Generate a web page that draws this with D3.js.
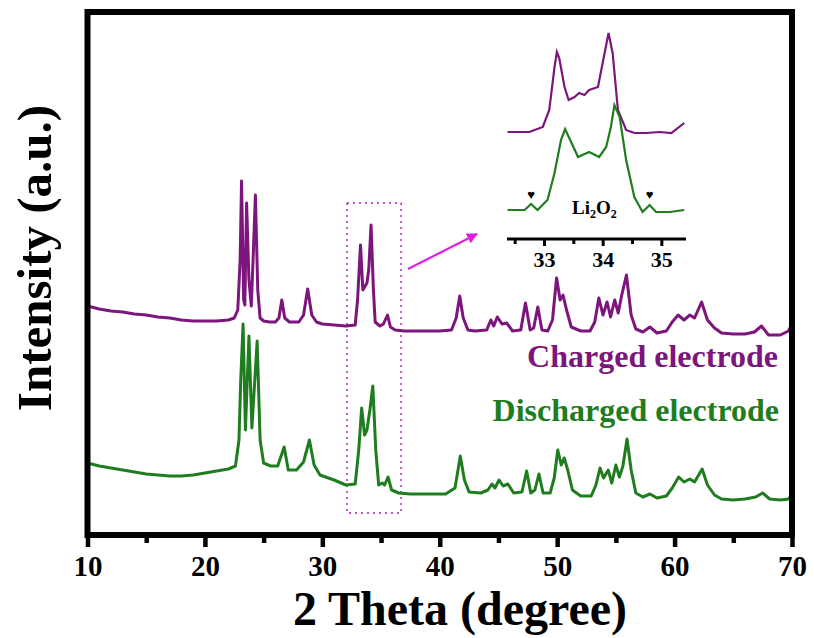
<!DOCTYPE html>
<html><head><meta charset="utf-8">
<script src="https://cdn.jsdelivr.net/npm/d3@7"></script>
<style>body{margin:0;background:#fff}svg{display:block}text{font-family:"Liberation Serif","Times New Roman",serif;font-weight:bold}</style>
</head><body>
<svg id="c" width="814" height="638"></svg>
<script>
// ---------- data ----------
const chargedTheta = [10,11,12,13,14,15,16,17,18,19,20,21,22,22.5,22.8,23.0,23.12,23.3,23.4,23.55,23.75,23.95,24.1,24.3,24.5,24.7,25,25.5,26,26.3,26.55,26.8,27.2,28,28.4,28.75,29.1,29.5,30,31,32,32.8,33.0,33.25,33.45,33.6,33.8,33.95,34.15,34.35,34.5,34.9,35.2,35.55,35.8,36.2,37,38,39,40,41,41.4,41.7,42,42.4,43,44,44.35,44.6,44.9,45.3,45.7,46.2,46.9,47.3,47.7,48,48.35,48.7,49.2,49.6,49.95,50.25,50.5,50.8,51.2,52,52.8,53.2,53.55,53.9,54.25,54.55,54.9,55.2,55.5,55.9,56.3,56.7,57.3,57.9,58.5,59.3,59.8,60.3,60.8,61.3,61.7,62.3,62.8,63.4,64,65,66,66.8,67.4,68,69,69.7,70];
const chargedI     = [227,224,222,221,219,218,216,215,213,212,212,212,213,215,223,273,352,233,228,330,253,227,273,338,243,215,212,211,211,215,233,215,211,211,218,244,218,211,209,208,207,208,233,288,243,246,250,263,308,243,211,207,209,218,206,203,202,202,202,202,203,215,237,215,203,202,203,213,207,216,209,210,202,203,230,203,205,226,203,202,213,255,233,238,223,206,202,202,211,235,218,231,216,233,220,238,258,218,204,201,206,200,202,211,218,213,218,215,231,213,205,200,199,199,201,207,198,198,202,209];
const dischargedTheta = [10,11,12,13,14,15,16,17,18,19,20,21,22,22.6,22.9,23.05,23.25,23.45,23.75,24.0,24.45,24.7,25,25.6,26.2,26.75,27.1,27.8,28.4,28.9,29.3,29.8,31,32,32.8,33.1,33.35,33.6,33.8,34.05,34.3,34.55,34.8,35.1,35.3,35.6,35.9,36.5,37.5,38.5,39.5,40.5,41.3,41.75,42.1,42.5,43.5,44.1,44.45,44.7,45.05,45.4,45.8,46.3,47,47.4,47.75,48.1,48.45,48.8,49.4,49.75,50.05,50.35,50.6,50.9,51.3,52,52.9,53.3,53.65,53.95,54.35,54.65,55,55.3,55.6,55.95,56.3,56.7,57.3,57.9,58.5,59.3,59.8,60.35,60.8,61.3,61.7,62.35,62.8,63.4,64,65,66,66.9,67.5,68.1,69,69.7,70];
const dischargedI     = [70,67,65,63,61,59,58,57,57,58,60,62,64,67,93,153,209,103,197,105,192,93,70,67,67,86,63,63,71,93,68,58,53,48,49,83,125,98,103,123,147,83,48,50,48,56,43,40,39,39,39,39,45,77,53,41,40,43,49,45,53,47,49,40,41,62,40,43,59,40,40,55,83,68,75,63,43,37,37,48,65,55,63,50,68,56,67,94,63,40,36,39,35,37,45,56,51,54,51,64,48,38,34,33,34,36,40,34,33,34,39];
const xTicks = [10,20,30,40,50,60,70];
const xMinorTicks = [15,25,35,45,55,65];
const seriesNames = ["Charged electrode","Discharged electrode"];
// inset (zoom on the Li2O2 region)
const insetChargedTheta = [32.38,32.75,32.98,33.09,33.18,33.22,33.26,33.35,33.42,33.52,33.6,33.69,33.77,33.92,34.01,34.1,34.17,34.26,34.4,34.54,34.74,34.97,35.17,35.39];
const insetChargedI     = [108,108,113,130,173,188,182,153,140,143,147,145,150,153,180,207,187,130,110,107,107,108,107,117];
const insetDischargedTheta = [32.38,32.67,32.78,32.89,33.06,33.18,33.29,33.36,33.47,33.58,33.77,33.94,34.06,34.14,34.2,34.29,34.4,34.54,34.68,34.8,34.91,35.14,35.39];
const insetDischargedI     = [30,30,36,30,40,67,100,111,97,83,88,83,93,113,135,123,80,43,28,35,28,28,30];
const insetTicks = [33,34,35];
const insetMinorTicks = [32.5,33.5,34.5];
const li2o2Marks = [32.78,34.8];
const zoomBoxTheta = [32.1,36.7];
const zoomBoxI = [20,330];

// ---------- drawing ----------
const purple = "#7c157c", green = "#1f7d1f";
const svg = d3.select("#c");
const L = 87.5, R = 792, T = 12, B = 535;
const x = d3.scaleLinear().domain([10,70]).range([L,R]);
const y = d3.scaleLinear().domain([0,520]).range([533,13]);

// zoom box
svg.append("rect")
  .attr("x", x(zoomBoxTheta[0])).attr("y", y(zoomBoxI[1]))
  .attr("width", x(zoomBoxTheta[1]) - x(zoomBoxTheta[0]))
  .attr("height", y(zoomBoxI[0]) - y(zoomBoxI[1]))
  .attr("fill","none").attr("stroke","#c050c0").attr("stroke-width",1.8)
  .attr("stroke-dasharray","2,4");

const line = d3.line().x(d=>x(d[0])).y(d=>y(d[1]));
svg.append("path").datum(chargedTheta.map((t,i)=>[t,chargedI[i]]))
  .attr("d",line).attr("fill","none").attr("stroke",purple).attr("stroke-width",3).attr("stroke-linejoin","round");
svg.append("path").datum(dischargedTheta.map((t,i)=>[t,dischargedI[i]]))
  .attr("d",line).attr("fill","none").attr("stroke",green).attr("stroke-width",3).attr("stroke-linejoin","round");

// frame
svg.append("rect").attr("x",L).attr("y",T).attr("width",R-L).attr("height",B-T)
  .attr("fill","none").attr("stroke","#000").attr("stroke-width",6);

// x axis
const ax = svg.append("g").attr("transform",`translate(0,${B})`);
ax.call(d3.axisBottom(x).tickValues(xTicks).tickSize(12).tickFormat(d3.format("d")));
ax.select(".domain").remove();
ax.selectAll(".tick line").attr("stroke","#000").attr("stroke-width",4.5);
ax.selectAll(".tick text").attr("y",20).attr("dy","0.71em").attr("font-size",29)
  .attr("font-family","Liberation Serif").attr("font-weight","bold").attr("fill","#000");
const axm = svg.append("g").attr("transform",`translate(0,${B})`);
axm.call(d3.axisBottom(x).tickValues(xMinorTicks).tickSize(8).tickFormat(""));
axm.select(".domain").remove();
axm.selectAll(".tick line").attr("stroke","#000").attr("stroke-width",4.5);

// axis titles
svg.append("text").attr("x",460).attr("y",625).attr("text-anchor","middle")
  .attr("font-size",48).text("2 Theta (degree)");
svg.append("text").attr("transform","translate(51,258) rotate(-90)").attr("text-anchor","middle")
  .attr("font-size",49).text("Intensity (a.u.)");

// series labels
svg.append("text").attr("x",778).attr("y",367).attr("text-anchor","end").attr("font-size",32)
  .attr("fill",purple).text(seriesNames[0]);
svg.append("text").attr("x",779).attr("y",421).attr("text-anchor","end").attr("font-size",32)
  .attr("fill",green).text(seriesNames[1]);

// arrow
const defs = svg.append("defs");
defs.append("marker").attr("id","ah").attr("viewBox","0 0 10 10").attr("refX",9).attr("refY",5)
  .attr("markerWidth",5).attr("markerHeight",5).attr("orient","auto")
  .append("path").attr("d","M0,0 L10,5 L0,10 z").attr("fill","#e020e0");
svg.append("line").attr("x1",408).attr("y1",269).attr("x2",477).attr("y2",234)
  .attr("stroke","#e020e0").attr("stroke-width",2.2).attr("marker-end","url(#ah)");

// inset
const xi = d3.scaleLinear().domain([32.37,35.42]).range([507,686]);
const yi = d3.scaleLinear().domain([0,240]).range([240,0]);
const li = d3.line().x(d=>xi(d[0])).y(d=>yi(d[1]));
svg.append("path").datum(insetChargedTheta.map((t,i)=>[t,insetChargedI[i]]))
  .attr("d",li).attr("fill","none").attr("stroke",purple).attr("stroke-width",2.2);
svg.append("path").datum(insetDischargedTheta.map((t,i)=>[t,insetDischargedI[i]]))
  .attr("d",li).attr("fill","none").attr("stroke",green).attr("stroke-width",2.2);
const ai = svg.append("g").attr("transform","translate(0,239)");
ai.call(d3.axisBottom(xi).tickValues(insetTicks).tickSize(7).tickFormat(d3.format("d")));
ai.select(".domain").attr("d",`M${xi.range()[0]},0H${xi.range()[1]}`).attr("stroke","#000").attr("stroke-width",3);
ai.selectAll(".tick line").attr("stroke","#000").attr("stroke-width",3);
ai.selectAll(".tick text").attr("y",12).attr("dy","0.71em").attr("font-size",22)
  .attr("font-family","Liberation Serif").attr("font-weight","bold").attr("fill","#000");
const aim = svg.append("g").attr("transform","translate(0,239)");
aim.call(d3.axisBottom(xi).tickValues(insetMinorTicks).tickSize(5).tickFormat(""));
aim.select(".domain").remove();
aim.selectAll(".tick line").attr("stroke","#000").attr("stroke-width",3);
// Li2O2 markers and label
svg.selectAll("text.heart").data(li2o2Marks).enter().append("text").attr("class","heart")
  .attr("x",d=>xi(d)).attr("y",yi(41)).attr("text-anchor","middle").attr("font-size",13)
  .attr("font-family","DejaVu Sans").text("\u2665");
const lt = svg.append("text").attr("x",572).attr("y",214).attr("font-size",19);
lt.append("tspan").text("Li");
lt.append("tspan").attr("font-size",12).attr("dy",4).text("2");
lt.append("tspan").attr("dy",-4).text("O");
lt.append("tspan").attr("font-size",12).attr("dy",4).text("2");
</script>
</body></html>
